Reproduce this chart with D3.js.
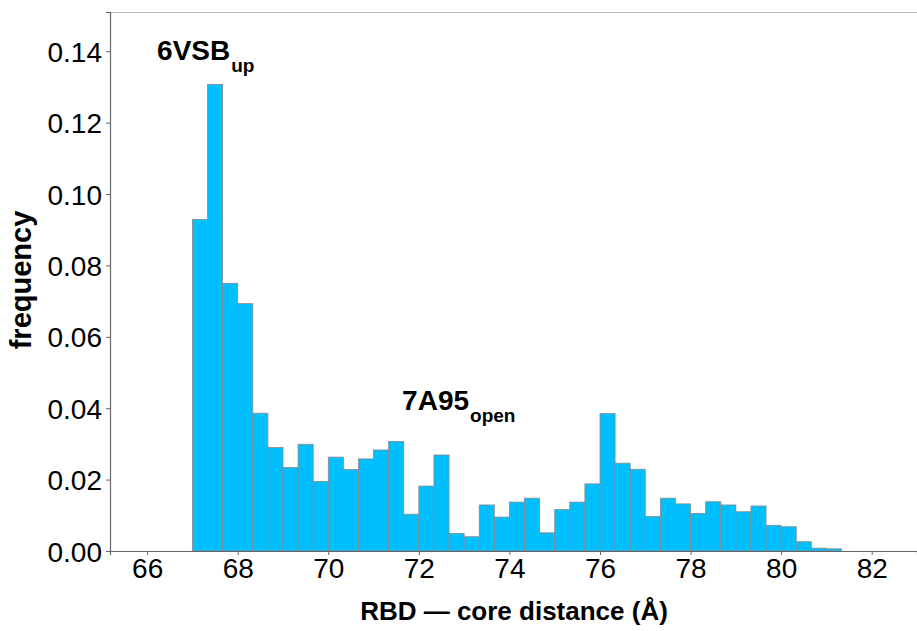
<!DOCTYPE html>
<html>
<head>
<meta charset="utf-8">
<script src="https://cdn.jsdelivr.net/npm/d3@7"></script>
<style>
  body { margin: 0; background: #fff; }
  text { font-family: "Liberation Sans", Arial, sans-serif; }
</style>
</head>
<body>
<div id="graph"></div>
<script>
// histogram bins: 1/3 A wide, starting at 67
var binStart = 67
var binWidth = 1 / 3
var freq = [
  0.0929, 0.1307, 0.0750, 0.0693, 0.0386, 0.0290, 0.0234, 0.0299, 0.0195, 0.0263,
  0.0228, 0.0258, 0.0283, 0.0307, 0.0103, 0.0182, 0.0269, 0.0049, 0.0040, 0.0129,
  0.0095, 0.0137, 0.0148, 0.0051, 0.0116, 0.0137, 0.0188, 0.0385, 0.0246, 0.0229,
  0.0097, 0.0148, 0.0132, 0.0105, 0.0138, 0.0129, 0.0110, 0.0126, 0.0072, 0.0068,
  0.0026, 0.0008, 0.0006
]
var xTicks = [66, 68, 70, 72, 74, 76, 78, 80, 82]
var yTicks = [0, 0.02, 0.04, 0.06, 0.08, 0.10, 0.12, 0.14]
var labels = [
  { main: '6VSB', sub: 'up', x: 66.22, y: 0.1375 },
  { main: '7A95', sub: 'open', x: 71.63, y: 0.0395 }
]

var margin = { top: 12, right: 0, bottom: 80, left: 110 },
  width = 917 - margin.left - margin.right,
  height = 631 - margin.top - margin.bottom

var svg = d3.select('#graph')
  .append('svg')
  .attr('width', 917)
  .attr('height', 631)

var g = svg.append('g')
  .attr('transform', 'translate(' + margin.left + ',' + margin.top + ')')

var x = d3.scaleLinear().domain([65.18, 83.0]).range([0, width])
var y = d3.scaleLinear().domain([0, 0.151]).range([height, 0])

// top border
g.append('line')
  .attr('x1', 0).attr('x2', width)
  .attr('y1', 0.5).attr('y2', 0.5)
  .attr('stroke', '#b8b8b8')

// bars
g.append('g')
  .selectAll('rect')
  .data(freq)
  .enter()
  .append('rect')
  .attr('x', function(d, i) { return x(binStart + i * binWidth) })
  .attr('width', function(d, i) { return x(binStart + (i + 1) * binWidth) - x(binStart + i * binWidth) })
  .attr('y', function(d) { return y(d) })
  .attr('height', function(d) { return y(0) - y(d) })
  .attr('fill', '#00bfff')
  .attr('stroke', '#8a8a8a')
  .attr('stroke-width', 0.8)

// axes
var xAxis = g.append('g')
  .attr('transform', 'translate(0,' + height + ')')
  .call(d3.axisBottom(x).tickValues(xTicks).tickSize(4).tickPadding(2).tickFormat(d3.format('d')))
var yAxis = g.append('g')
  .call(d3.axisLeft(y).tickValues(yTicks).tickSize(4).tickPadding(4).tickFormat(d3.format('.2f')))

;[xAxis, yAxis].forEach(function(a) {
  a.select('.domain').attr('stroke', '#666').attr('stroke-width', 1.2)
  a.selectAll('.tick line').attr('stroke', '#666')
  a.selectAll('.tick text')
    .attr('fill', '#000')
    .style('font-size', '28px')
    .style('font-family', '"Liberation Sans", Arial, sans-serif')
})
xAxis.selectAll('.tick text').attr('dy', '0.74em')
yAxis.selectAll('.tick text').attr('dy', '0.36em')

// axis titles
svg.append('text')
  .attr('x', 514).attr('y', 620)
  .attr('text-anchor', 'middle')
  .style('font-size', '26px').style('font-weight', 'bold')
  .text('RBD \u2014 core distance (\u00c5)')

svg.append('text')
  .attr('transform', 'translate(31,280) rotate(-90)')
  .attr('text-anchor', 'middle')
  .style('font-size', '29px').style('font-weight', 'bold')
  .text('frequency')

// structure labels
labels.forEach(function(l) {
  var t = g.append('text')
    .attr('x', x(l.x)).attr('y', y(l.y))
    .style('font-size', '28px').style('font-weight', 'bold')
  t.append('tspan').text(l.main)
  t.append('tspan').attr('dx', 1).attr('dy', 12).style('font-size', '19px').text(l.sub)
})
</script>
</body>
</html>
